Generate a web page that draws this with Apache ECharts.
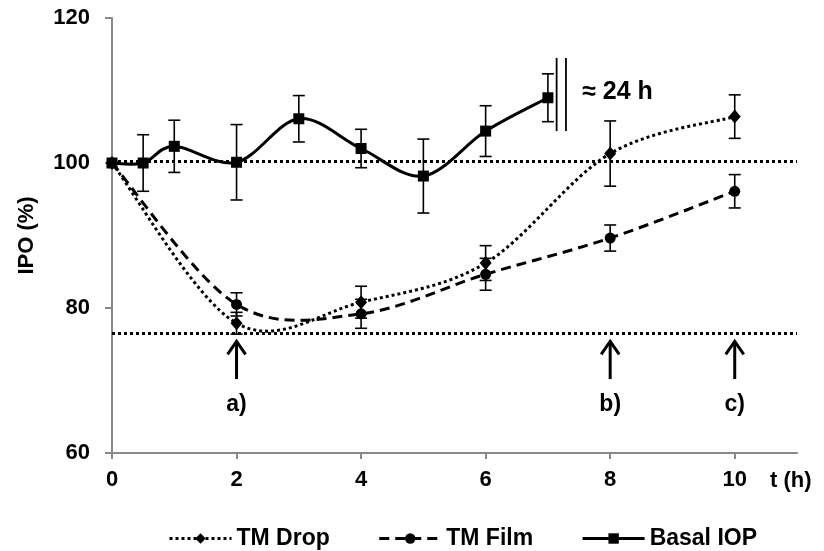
<!DOCTYPE html>
<html>
<head>
<meta charset="utf-8">
<script src="https://cdn.jsdelivr.net/npm/echarts@6/dist/echarts.min.js"></script>
<style>
html,body{margin:0;padding:0;background:#fff;}
#chart{width:824px;height:551px;}
</style>
</head>
<body>
<div id="chart"></div>
<script>
// ---- data ----
const seriesNames = ['TM Drop', 'TM Film', 'Basal IOP'];
const dropX = [0, 2, 4, 6, 8, 10];
const dropY = [100, 77.9, 80.8, 86.2, 101.3, 106.4];
const dropErr = [0, 1.5, 2.2, 2.4, 4.5, 3.0];
const filmX = [0, 2, 4, 6, 8, 10];
const filmY = [100, 80.5, 79.2, 84.65, 89.65, 96.1];
const filmErr = [0, 1.6, 2.0, 2.2, 1.8, 2.3];
const basalX = [0, 0.5, 1, 2, 3, 4, 5, 6, 7];
const basalY = [100, 100, 102.3, 100.1, 106.1, 102.0, 98.2, 104.4, 109.0];
const basalErr = [0, 3.9, 3.6, 5.2, 3.2, 2.65, 5.1, 3.5, 3.3];
const refLines = [100.2, 76.55];
const xTicks = [0, 2, 4, 6, 8, 10];
const yTicks = [60, 80, 100, 120];
const arrowX = [2, 8, 10];
const arrowLabels = ['a)', 'b)', 'c)'];
const arrowTip = 75.4, arrowBase = 70.2, arrowLabelY = 66.7;
const breakX = [7.14, 7.29];
const breakTop = 114.5, breakBottom = 104.4;
const breakText = '≈ 24 h';
const breakTextPos = [7.55, 109.8];

const FONT = '"Liberation Sans", Arial, sans-serif';
const STYLE = {
  'TM Drop': { type: [3, 3], width: 3 },
  'TM Film': { type: [10, 6], width: 3 },
  'Basal IOP': { type: 'solid', width: 3 }
};

function pairs(xs, ys) { return xs.map((x, i) => [x, ys[i]]); }
function errData(xs, ys, es) { return xs.map((x, i) => [x, ys[i] - es[i], ys[i] + es[i]]); }

function errorRender(params, api) {
  const x = api.value(0);
  const lo = api.coord([x, api.value(1)]);
  const hi = api.coord([x, api.value(2)]);
  if (Math.abs(hi[1] - lo[1]) < 0.5) return null;
  const w = 6;
  const st = { stroke: '#000', lineWidth: 1.6 };
  return {
    type: 'group',
    children: [
      { type: 'line', shape: { x1: lo[0], y1: lo[1], x2: hi[0], y2: hi[1] }, style: st },
      { type: 'line', shape: { x1: lo[0] - w, y1: lo[1], x2: lo[0] + w, y2: lo[1] }, style: st },
      { type: 'line', shape: { x1: hi[0] - w, y1: hi[1], x2: hi[0] + w, y2: hi[1] }, style: st }
    ]
  };
}

// Excel-like (Catmull-Rom) smoothed curve through the data, in pixel space via api.coord
function curveRender(xs, ys, name) {
  return function (params, api) {
    if (params.dataIndex !== 0) return null;
    const p = xs.map((x, i) => api.coord([x, ys[i]]));
    const n = p.length;
    let d = 'M' + p[0][0] + ' ' + p[0][1];
    for (let i = 0; i < n - 1; i++) {
      const p0 = p[Math.max(i - 1, 0)], p1 = p[i], p2 = p[i + 1], p3 = p[Math.min(i + 2, n - 1)];
      const c1x = p1[0] + (p2[0] - p0[0]) / 6, c1y = p1[1] + (p2[1] - p0[1]) / 6;
      const c2x = p2[0] - (p3[0] - p1[0]) / 6, c2y = p2[1] - (p3[1] - p1[1]) / 6;
      d += ' C' + c1x + ' ' + c1y + ' ' + c2x + ' ' + c2y + ' ' + p2[0] + ' ' + p2[1];
    }
    const s = STYLE[name];
    return {
      type: 'path',
      shape: { pathData: d },
      style: { stroke: '#000', fill: null, lineWidth: s.width, lineDash: s.type === 'solid' ? null : s.type }
    };
  };
}

const chart = echarts.init(document.getElementById('chart'), null, { renderer: 'canvas' });

const option = {
  animation: false,
  backgroundColor: '#fff',
  grid: { left: 112, right: 27, top: 18, bottom: 98, containLabel: false },
  legend: {
    data: seriesNames.map(n => ({
      name: n,
      lineStyle: { color: '#000', width: STYLE[n].width, type: STYLE[n].type, opacity: 1 }
    })),
    left: 163,
    top: 522,
    itemWidth: 62,
    itemHeight: 13,
    itemGap: 48,
    textStyle: { fontFamily: FONT, fontWeight: 'bold', fontSize: 23, color: '#000' }
  },
  xAxis: {
    type: 'value',
    min: 0, max: 11, interval: 2,
    name: 't (h)',
    nameLocation: 'end',
    nameGap: -27,
    nameTextStyle: { fontFamily: FONT, fontWeight: 'bold', fontSize: 22, color: '#000', verticalAlign: 'top', padding: [17, 0, 0, 0] },
    axisLine: { lineStyle: { color: '#898989', width: 2 } },
    axisTick: { show: true, inside: false, length: 6, customValues: xTicks, lineStyle: { color: '#898989', width: 2 } },
    axisLabel: { customValues: xTicks, margin: 16, fontFamily: FONT, fontWeight: 'bold', fontSize: 22, color: '#000' },
    splitLine: { show: false }
  },
  yAxis: {
    type: 'value',
    min: 60, max: 120, interval: 20,
    name: 'IPO (%)',
    nameLocation: 'middle',
    nameGap: 74,
    nameRotate: 90,
    nameTextStyle: { fontFamily: FONT, fontWeight: 'bold', fontSize: 22, color: '#000' },
    axisLine: { show: true, lineStyle: { color: '#898989', width: 2 } },
    axisTick: { show: true, inside: false, length: 7, lineStyle: { color: '#898989', width: 2 } },
    axisLabel: { margin: 22, fontFamily: FONT, fontWeight: 'bold', fontSize: 22, color: '#000', customValues: yTicks },
    splitLine: { show: false }
  },
  series: [
    {
      name: 'TM Drop', type: 'line',
      data: pairs(dropX, dropY),
      symbol: 'diamond', symbolSize: [12, 14],
      itemStyle: { color: '#000' },
      lineStyle: { color: '#000', width: 3, type: [3, 3], opacity: 0 },
      z: 4,
      markLine: {
        silent: true, symbol: ['none', 'none'],
        label: { show: false },
        lineStyle: { color: '#000', width: 3, type: [3, 3], opacity: 1 },
        data: refLines.map(v => ({ yAxis: v }))
      }
    },
    {
      name: 'TM Film', type: 'line',
      data: pairs(filmX, filmY),
      symbol: 'circle', symbolSize: 11,
      itemStyle: { color: '#000' },
      lineStyle: { color: '#000', width: 3, type: [10, 6], opacity: 0 },
      z: 4
    },
    {
      name: 'Basal IOP', type: 'line',
      data: pairs(basalX, basalY),
      symbol: 'rect', symbolSize: 11,
      itemStyle: { color: '#000' },
      lineStyle: { color: '#000', width: 3, type: 'solid', opacity: 0 },
      z: 4
    },
    { type: 'custom', name: 'curveDrop', renderItem: curveRender(dropX, dropY, 'TM Drop'), data: pairs(dropX, dropY), z: 3, silent: true },
    { type: 'custom', name: 'curveFilm', renderItem: curveRender(filmX, filmY, 'TM Film'), data: pairs(filmX, filmY), z: 3, silent: true },
    { type: 'custom', name: 'curveBasal', renderItem: curveRender(basalX, basalY, 'Basal IOP'), data: pairs(basalX, basalY), z: 3, silent: true },
    { type: 'custom', name: 'errDrop', renderItem: errorRender, data: errData(dropX, dropY, dropErr), z: 2, silent: true },
    { type: 'custom', name: 'errFilm', renderItem: errorRender, data: errData(filmX, filmY, filmErr), z: 2, silent: true },
    { type: 'custom', name: 'errBasal', renderItem: errorRender, data: errData(basalX, basalY, basalErr), z: 2, silent: true },
    {
      type: 'custom', name: 'arrows', silent: true, z: 5,
      data: arrowX.map((x, i) => [x, arrowBase, arrowTip, i]),
      renderItem: function (params, api) {
        const x = api.value(0);
        const b = api.coord([x, api.value(1)]);
        const t = api.coord([x, api.value(2)]);
        const l = api.coord([x, arrowLabelY]);
        const st = { stroke: '#000', lineWidth: 3, fill: null };
        return {
          type: 'group',
          children: [
            { type: 'line', shape: { x1: b[0], y1: b[1], x2: t[0], y2: t[1] + 1 }, style: st },
            { type: 'polyline', shape: { points: [[t[0] - 9, t[1] + 13], [t[0], t[1]], [t[0] + 9, t[1] + 13]] }, style: st },
            { type: 'text', x: l[0], y: l[1], style: { text: arrowLabels[api.value(3)], fontFamily: FONT, fontWeight: 'bold', fontSize: 23, fill: '#000', align: 'center', verticalAlign: 'middle' } }
          ]
        };
      }
    },
    {
      type: 'custom', name: 'break', silent: true, z: 5,
      data: breakX.map(x => [x, breakBottom, breakTop]),
      renderItem: function (params, api) {
        const x = api.value(0);
        const b = api.coord([x, api.value(1)]);
        const t = api.coord([x, api.value(2)]);
        const children = [
          { type: 'line', shape: { x1: b[0], y1: b[1], x2: t[0], y2: t[1] }, style: { stroke: '#000', lineWidth: 1.8 } }
        ];
        if (params.dataIndex === 0) {
          const p = api.coord(breakTextPos);
          children.push({ type: 'text', x: p[0], y: p[1], style: { text: breakText, fontFamily: FONT, fontWeight: 'bold', fontSize: 25, fill: '#000', align: 'left', verticalAlign: 'middle' } });
        }
        return { type: 'group', children: children };
      }
    }
  ]
};
chart.setOption(option);
</script>
</body>
</html>
